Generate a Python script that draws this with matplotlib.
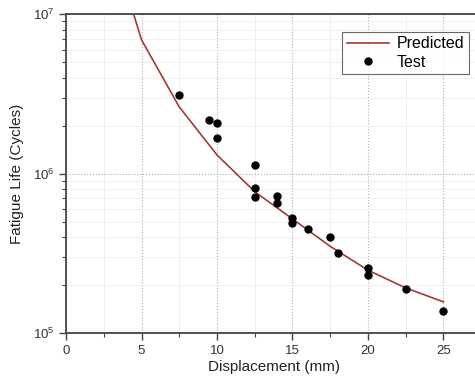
import numpy as np
import matplotlib.pyplot as plt
from matplotlib.ticker import MultipleLocator, LogLocator, NullFormatter

plt.rcParams['font.family'] = 'Liberation Sans'
plt.rcParams['mathtext.fontset'] = 'custom'
plt.rcParams['mathtext.rm'] = 'Liberation Sans'

# Predicted curve (piecewise through read points)
pred_x = [4.0, 5.0, 7.5, 10.0, 12.5, 15.0, 17.5, 20.0, 22.5, 25.0]
pred_y = [1.4e7, 6.9e6, 2.62e6, 1.31e6, 7.7e5, 5.2e5, 3.5e5, 2.48e5, 1.92e5, 1.57e5]

# Test data
test_x = [7.5, 9.5, 10.0, 10.0, 12.5, 12.5, 12.5, 14.0, 14.0, 15.0, 15.0, 16.0, 17.5, 18.0, 20.0, 20.0, 22.5, 25.0]
test_y = [3.12e6, 2.16e6, 2.09e6, 1.67e6, 1.14e6, 8.1e5, 7.1e5, 7.26e5, 6.5e5, 5.3e5, 4.9e5, 4.5e5, 4.0e5, 3.18e5, 2.57e5, 2.32e5, 1.9e5, 1.38e5]

fig = plt.figure(figsize=(4.75, 3.82), dpi=100)
ax = fig.add_axes([0.139, 0.128, 0.874, 0.835])

ax.plot(pred_x, pred_y, color='#a33a35', lw=1.2, label='Predicted', zorder=3)
ax.plot(test_x, test_y, 'o', color='black', ms=5, label='Test', zorder=4)

ax.set_yscale('log')
ax.set_xlim(0, 27.5)
ax.set_ylim(1e5, 1e7)

ax.xaxis.set_major_locator(MultipleLocator(5))
ax.xaxis.set_minor_locator(MultipleLocator(2.5))
ax.yaxis.set_major_locator(LogLocator(base=10, numticks=5))
ax.yaxis.set_minor_locator(LogLocator(base=10, subs=np.arange(2, 10), numticks=10))
ax.yaxis.set_minor_formatter(NullFormatter())

# grid: dotted majors, faint minors
ax.grid(which='major', axis='both', color='#b0b0b0', linestyle=':', lw=0.8)
ax.grid(which='minor', axis='x', color='#e8f2e8', linestyle='-', lw=0.6)
ax.grid(which='minor', axis='y', color='#efefef', linestyle='-', lw=0.6)
ax.set_axisbelow(True)

for s in ['left', 'bottom', 'top']:
    ax.spines[s].set_color('#444444')
    ax.spines[s].set_linewidth(1.3)
ax.spines['right'].set_visible(False)

ax.tick_params(which='major', direction='out', length=5, width=1, color='#444444',
               labelsize=9.5, labelcolor='#333333')
ax.tick_params(which='minor', direction='out', length=3, width=0.8, color='#444444')
ax.tick_params(axis='x', which='both', top=False)

ax.set_xlabel('Displacement (mm)', fontsize=11, color='#222222', labelpad=2)
ax.set_ylabel('Fatigue Life (Cycles)', fontsize=11, color='#222222', labelpad=6)

leg = ax.legend(loc='upper right', bbox_to_anchor=(0.99, 0.97), fontsize=11.5,
                frameon=True, fancybox=False, edgecolor='#444444',
                handlelength=2.6, borderpad=0.3, labelspacing=0.2, handletextpad=0.5)
leg.get_frame().set_linewidth(0.8)

fig.savefig('out.png', dpi=100)
